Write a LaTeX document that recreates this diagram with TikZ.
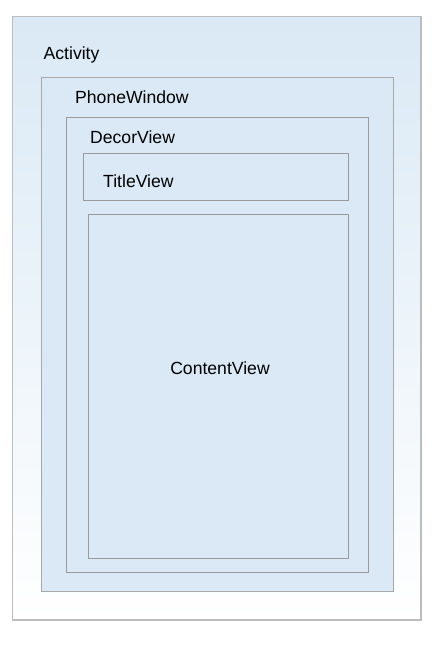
\documentclass[tikz,border=0pt]{standalone}
\usepackage{fontspec}
\setmainfont{Liberation Sans}
\definecolor{paleblue}{HTML}{DAE9F5}
\definecolor{outerline}{HTML}{BDBDBD}
\definecolor{midline}{HTML}{A8A8A8}
\definecolor{innerline}{HTML}{9A9A9A}
\tikzset{
  frame/.style={draw=innerline, line width=1pt, fill=paleblue},
  lbl/.style={font=\fontsize{17.6}{20}\selectfont, inner sep=0pt, anchor=base west}
}
\begin{document}
\begin{tikzpicture}[x=1pt,y=-1pt]
\useasboundingbox (0,0) rectangle (444,650);
\shade[top color=paleblue, bottom color=white, draw=outerline, line width=1.2pt] (12.5,16.5) rectangle (421,620);
\draw[frame, draw=midline] (41,77.5) rectangle (393,591);
\draw[frame] (66,117.5) rectangle (368,572);
\draw[frame] (83,153.5) rectangle (348,200.5);
\draw[frame] (88,214.5) rectangle (348,558);
\node[lbl] (tActivity) at (43.5,60) {Activity};
\node[lbl] (tPhone) at (75,104) {PhoneWindow};
\node[lbl] (tDecor) at (90,143) {DecorView};
\node[lbl] (tTitle) at (103,187) {TitleView};
\node[font=\fontsize{17.6}{20}\selectfont, inner sep=0pt, anchor=base] (tContent) at (220,374) {ContentView};
\end{tikzpicture}
\end{document}
